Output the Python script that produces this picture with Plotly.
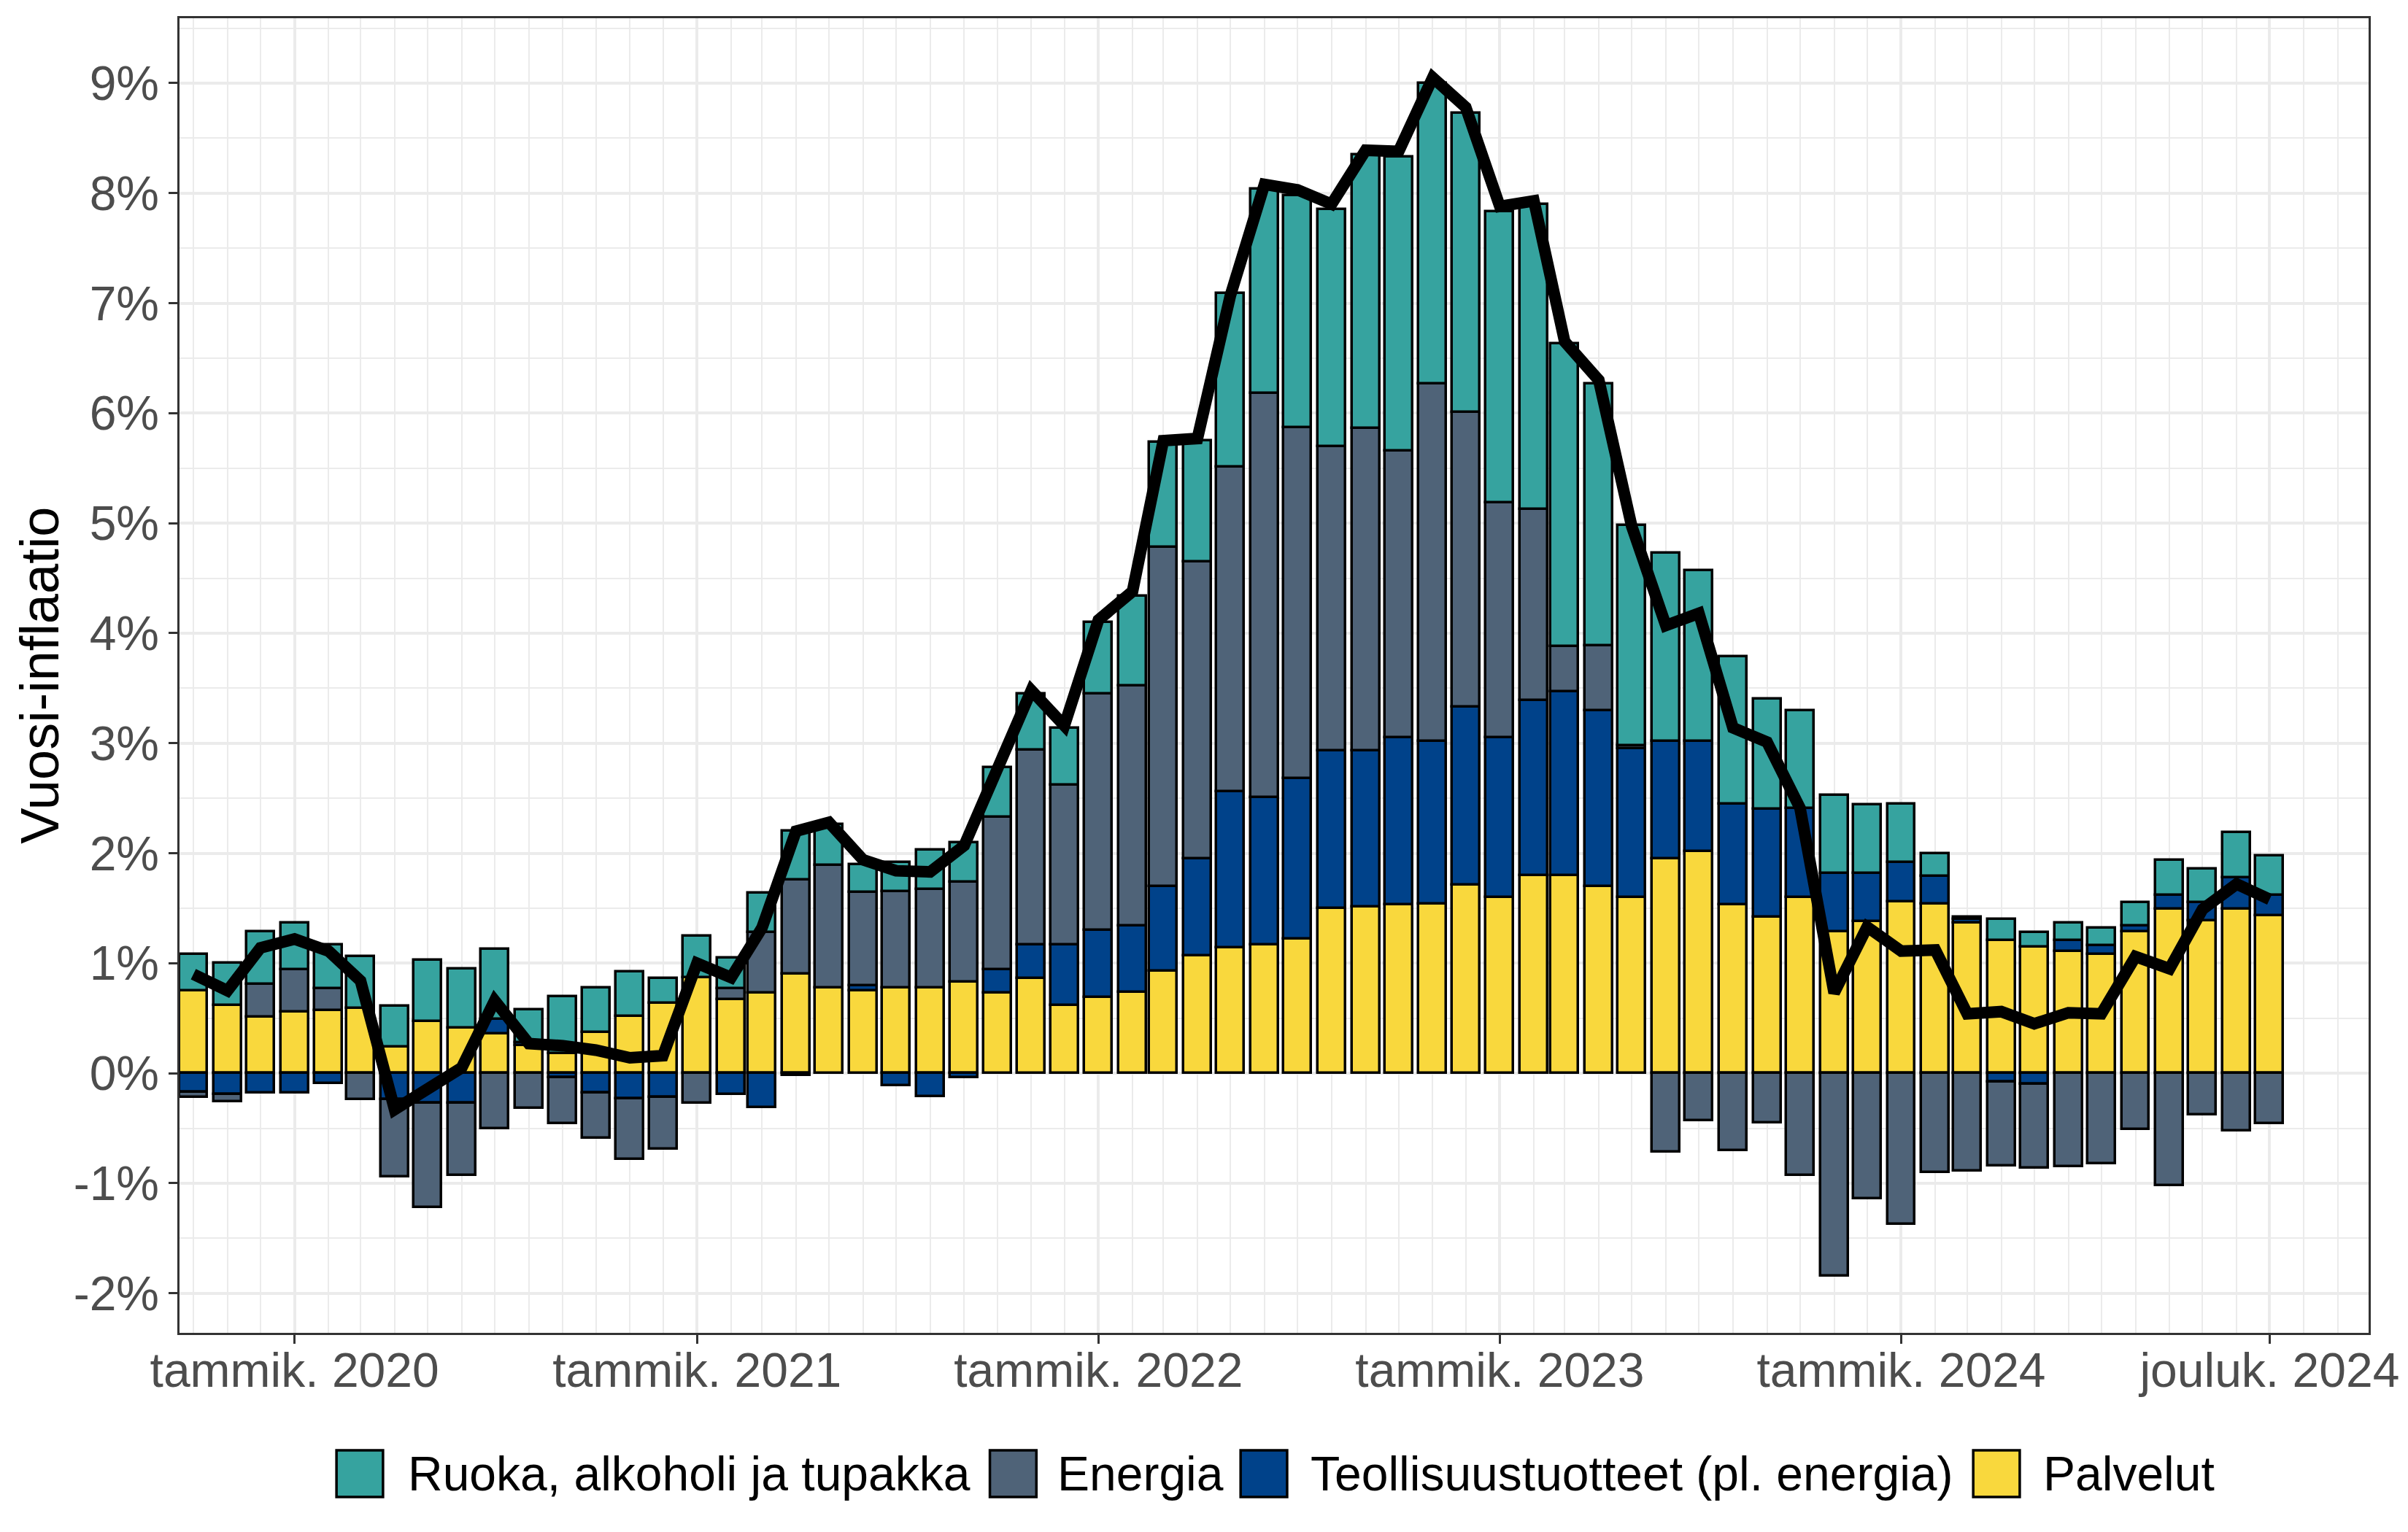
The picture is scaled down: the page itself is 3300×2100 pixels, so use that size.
import pandas as pd
import plotly.graph_objects as go

# ---- data (Oct 2019 - Dec 2024), contributions in %-points ----
months = pd.date_range("2019-10-01", "2024-12-01", freq="MS")

palvelut = [0.75, 0.62, 0.51,
            0.56, 0.57, 0.59, 0.24, 0.47, 0.41, 0.36, 0.25, 0.18, 0.37, 0.52, 0.64,
            0.87, 0.67, 0.73, 0.90, 0.78, 0.75, 0.78, 0.78, 0.83, 0.73, 0.86, 0.62,
            0.69, 0.74, 0.93, 1.07, 1.14, 1.17, 1.22, 1.50, 1.51, 1.53, 1.54, 1.71,
            1.60, 1.80, 1.80, 1.70, 1.60, 1.95, 2.02, 1.53, 1.42, 1.60, 1.29, 1.38,
            1.56, 1.54, 1.37, 1.21, 1.15, 1.11, 1.08, 1.29, 1.49, 1.39, 1.49, 1.43]

teollisuus = [-0.17, -0.19, -0.18,
              -0.18, -0.09, 0.00, -0.24, -0.27, -0.27, 0.13, 0.03, -0.04, -0.18, -0.23, -0.22,
              0.00, -0.19, -0.31, -0.02, 0.00, 0.045, -0.11, -0.21, -0.04, 0.21, 0.31, 0.55,
              0.61, 0.60, 0.77, 0.88, 1.42, 1.34, 1.46, 1.43, 1.42, 1.52, 1.48, 1.62,
              1.45, 1.59, 1.67, 1.60, 1.35, 1.07, 1.00, 0.92, 0.98, 0.81, 0.53, 0.44,
              0.36, 0.25, 0.03, -0.08, -0.10, 0.10, 0.08, 0.05, 0.13, 0.16, 0.29, 0.19]

energia = [-0.05, -0.07, 0.30,
           0.38, 0.20, -0.24, -0.70, -0.95, -0.66, -0.50, -0.32, -0.42, -0.41, -0.55, -0.47,
           -0.27, 0.10, 0.55, 0.86, 1.11, 0.85, 0.87, 0.89, 0.91, 1.39, 1.77, 1.45,
           2.15, 2.18, 3.08, 2.70, 2.95, 3.67, 3.19, 2.77, 2.93, 2.61, 3.25, 2.68,
           2.14, 1.74, 0.41, 0.59, 0.03, -0.715, -0.43, -0.70, -0.45, -0.93, -1.84, -1.14,
           -1.37, -0.90, -0.885, -0.76, -0.76, -0.85, -0.82, -0.51, -1.02, -0.38, -0.52, -0.46]

ruoka = [0.33, 0.38, 0.48,
         0.43, 0.40, 0.47, 0.37, 0.56, 0.54, 0.64, 0.30, 0.52, 0.41, 0.40, 0.22,
         0.38, 0.28, 0.36, 0.44, 0.375, 0.25, 0.27, 0.36, 0.355, 0.45, 0.51, 0.52,
         0.65, 0.82, 0.96, 1.10, 1.58, 1.86, 2.11, 2.15, 2.49, 2.67, 2.73, 2.72,
         2.64, 2.77, 2.75, 2.38, 2.00, 1.71, 1.55, 1.34, 1.00, 0.89, 0.71, 0.62,
         0.53, 0.21, 0.02, 0.19, 0.13, 0.16, 0.16, 0.21, 0.32, 0.31, 0.41, 0.36]

inflaatio = [0.90, 0.75, 1.14,
             1.22, 1.11, 0.84, -0.33, -0.14, 0.05, 0.66, 0.27, 0.25, 0.21, 0.14, 0.16,
             1.00, 0.87, 1.32, 2.20, 2.28, 1.94, 1.84, 1.83, 2.07, 2.77, 3.48, 3.16,
             4.12, 4.38, 5.75, 5.77, 7.07, 8.08, 8.03, 7.90, 8.39, 8.38, 9.05, 8.78,
             7.88, 7.93, 6.65, 6.30, 4.97, 4.07, 4.18, 3.14, 3.01, 2.41, 0.73, 1.33,
             1.11, 1.12, 0.54, 0.56, 0.45, 0.55, 0.54, 1.06, 0.95, 1.49, 1.72, 1.58]

series_names = ["Ruoka, alkoholi ja tupakka", "Energia",
                "Teollisuustuotteet (pl. energia)", "Palvelut"]
series_colors = ["#36A39F", "#4F6378", "#00428A", "#F9D83D"]

x_tickvals = ["2020-01-01", "2021-01-01", "2022-01-01", "2023-01-01",
              "2024-01-01", "2024-12-01"]
x_ticktext = ["tammik. 2020", "tammik. 2021", "tammik. 2022", "tammik. 2023",
              "tammik. 2024", "jouluk. 2024"]
y_tickvals = list(range(-2, 10))
y_ticktext = [f"{v}%" for v in y_tickvals]

FONT = "Liberation Sans, Arial, Helvetica, sans-serif"
BAR_WIDTH_MS = 25.2 * 86400000  # 0.9 * 28 days

fig = go.Figure()
values = {series_names[0]: ruoka, series_names[1]: energia,
          series_names[2]: teollisuus, series_names[3]: palvelut}
color_of = dict(zip(series_names, series_colors))
# stacking order from zero outward: Palvelut, Teollisuus, Energia, Ruoka
for name in reversed(series_names):
    fig.add_trace(go.Bar(
        x=months, y=values[name], name=name, width=BAR_WIDTH_MS,
        marker=dict(color=color_of[name], line=dict(color="black", width=3.5)),
        showlegend=False))

fig.add_trace(go.Scatter(x=months, y=inflaatio, mode="lines",
                         line=dict(color="black", width=16), showlegend=False))

# plot area in pixels
L, R, T, B = 246, 3258, 25, 1827
W, H = R - L, B - T


def px(x):
    return (x - L) / W


def py(y):
    return (B - y) / H


axis_common = dict(
    showline=True, mirror=True, linecolor="#333333", linewidth=2.5,
    ticks="outside", ticklen=12, tickwidth=3, tickcolor="#333333",
    tickfont=dict(size=66, color="#4D4D4D", family=FONT),
    showgrid=True, gridcolor="#EBEBEB", gridwidth=4, zeroline=False,
)

fig.update_layout(
    width=3300, height=2100,
    margin=dict(l=L, r=3300 - R, t=T, b=2100 - B),
    barmode="relative", bargap=0,
    paper_bgcolor="white", plot_bgcolor="white",
    font=dict(family=FONT),
    showlegend=False,
    xaxis=dict(type="date", range=["2019-09-18 09:36", "2025-03-01"],
               tickmode="array", tickvals=x_tickvals, ticktext=x_ticktext,
               ticklabelstandoff=-20,
               minor=dict(tickmode="linear", tick0="2019-09-01", dtick="M1",
                          showgrid=True, gridcolor="#EBEBEB", gridwidth=2, ticks=""),
               **axis_common),
    yaxis=dict(range=[-2.36, 9.59], tickmode="array",
               tickvals=y_tickvals, ticktext=y_ticktext,
               minor=dict(tickmode="linear", tick0=0, dtick=0.5,
                          showgrid=True, gridcolor="#EBEBEB", gridwidth=2, ticks=""),
               **axis_common),
)

# y-axis title
fig.add_annotation(text="Vuosi-inflaatio", xref="paper", yref="paper",
                   x=px(53), y=0.5, xanchor="center", yanchor="middle",
                   textangle=-90, showarrow=False,
                   font=dict(size=74, color="black", family=FONT))

# manual legend (large keys as in the original)
key_centers = [494, 1393, 1738, 2746]
text_left = [558, 1452, 1800, 2808]
key_half = 32
legend_cy = 2020
for name, color, kc, tl in zip(series_names, series_colors, key_centers, text_left):
    fig.add_shape(type="rect", xref="paper", yref="paper",
                  x0=px(kc - key_half), x1=px(kc + key_half),
                  y0=py(legend_cy + key_half), y1=py(legend_cy - key_half),
                  fillcolor=color, line=dict(color="black", width=3.5))
    fig.add_annotation(text=name, xref="paper", yref="paper",
                       x=px(tl), y=py(legend_cy), xanchor="left", yanchor="middle",
                       showarrow=False,
                       font=dict(size=66, color="black", family=FONT))

fig.write_html("out.html", config={"displayModeBar": False},
               post_script="document.body.style.margin='0';")
